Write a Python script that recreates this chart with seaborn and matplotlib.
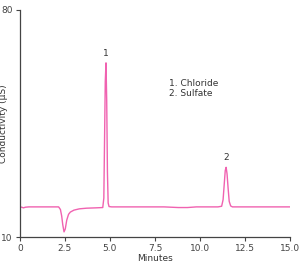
import pandas as pd
import matplotlib
matplotlib.use('Agg')
import matplotlib.pyplot as plt
import seaborn as sns

# chromatogram trace (minutes, uS)
minutes = [0.0, 0.1, 0.2, 0.3, 0.5, 1.0, 1.5, 2.0, 2.15, 2.25, 2.32, 2.38, 2.45,
           2.52, 2.6, 2.7, 2.8, 3.0, 3.3, 3.7, 4.2, 4.6, 4.66, 4.7, 4.74, 4.78,
           4.82, 4.86, 4.9, 4.95, 5.1, 6.0, 7.0, 8.0, 8.8, 9.3, 9.8, 10.5, 11.0,
           11.2, 11.28, 11.34, 11.4, 11.45, 11.5, 11.56, 11.62, 11.7, 11.8, 12.5,
           13.5, 14.5, 15.0]
conductivity = [19.3, 19.2, 19.0, 19.2, 19.3, 19.3, 19.3, 19.3, 19.3, 18.5, 16.5, 13.8, 11.6,
                12.5, 15.2, 17.0, 17.7, 18.3, 18.7, 18.9, 19.0, 19.1, 22.0, 40.0, 58.0, 63.7,
                52.0, 30.0, 20.5, 19.4, 19.3, 19.3, 19.3, 19.3, 19.1, 19.1, 19.3, 19.3, 19.3,
                19.5, 21.5, 26.0, 30.5, 31.5, 29.5, 25.0, 21.0, 19.6, 19.3, 19.3,
                19.3, 19.3, 19.3]
peak_labels = ['1', '2']
peak_times = [4.78, 11.45]
peak_heights = [63.7, 31.5]
peak_names = ['1. Chloride', '2. Sulfate']
x_ticks = [0, 2.5, 5.0, 7.5, 10.0, 12.5, 15.0]
x_tick_labels = ['0', '2.5', '5.0', '7.5', '10.0', '12.5', '15.0']
y_ticks = [10, 80]

df = pd.DataFrame({'Minutes': minutes, 'Conductivity': conductivity})

sns.set_style('ticks')
plt.rcParams['font.family'] = ['Liberation Sans Narrow', 'DejaVu Sans']

fig = plt.figure(figsize=(3.06, 2.70), dpi=100)
ax = fig.add_axes([0.065, 0.122, 0.883, 0.841])

sns.lineplot(data=df, x='Minutes', y='Conductivity', color='#f062b0', lw=1.0, ax=ax)

for lab, t, h in zip(peak_labels, peak_times, peak_heights):
    ax.text(t, h + 1.5, lab, ha='center', va='bottom', fontsize=6.5, color='#333333')

ax.text(8.3, 58.8, '\n'.join(peak_names), ha='left', va='top', fontsize=6.5,
        color='#333333', linespacing=1.15)

ax.set_xlim(0, 15)
ax.set_ylim(10, 80)
ax.set_xticks(x_ticks)
ax.set_xticklabels(x_tick_labels)
ax.set_yticks(y_ticks)
ax.tick_params(labelsize=6.5, length=3, width=0.8, colors='#444444', pad=2)
ax.set_xlabel('Minutes', fontsize=6.5, color='#333333', labelpad=1)
ax.set_ylabel('Conductivity (µS)', fontsize=6.5, color='#333333')
ax.yaxis.set_label_coords(-0.045, 0.5)
for s in ['left', 'bottom']:
    ax.spines[s].set_color('#444444')
    ax.spines[s].set_linewidth(0.9)
sns.despine(ax=ax)

fig.savefig('out.png', dpi=100)
